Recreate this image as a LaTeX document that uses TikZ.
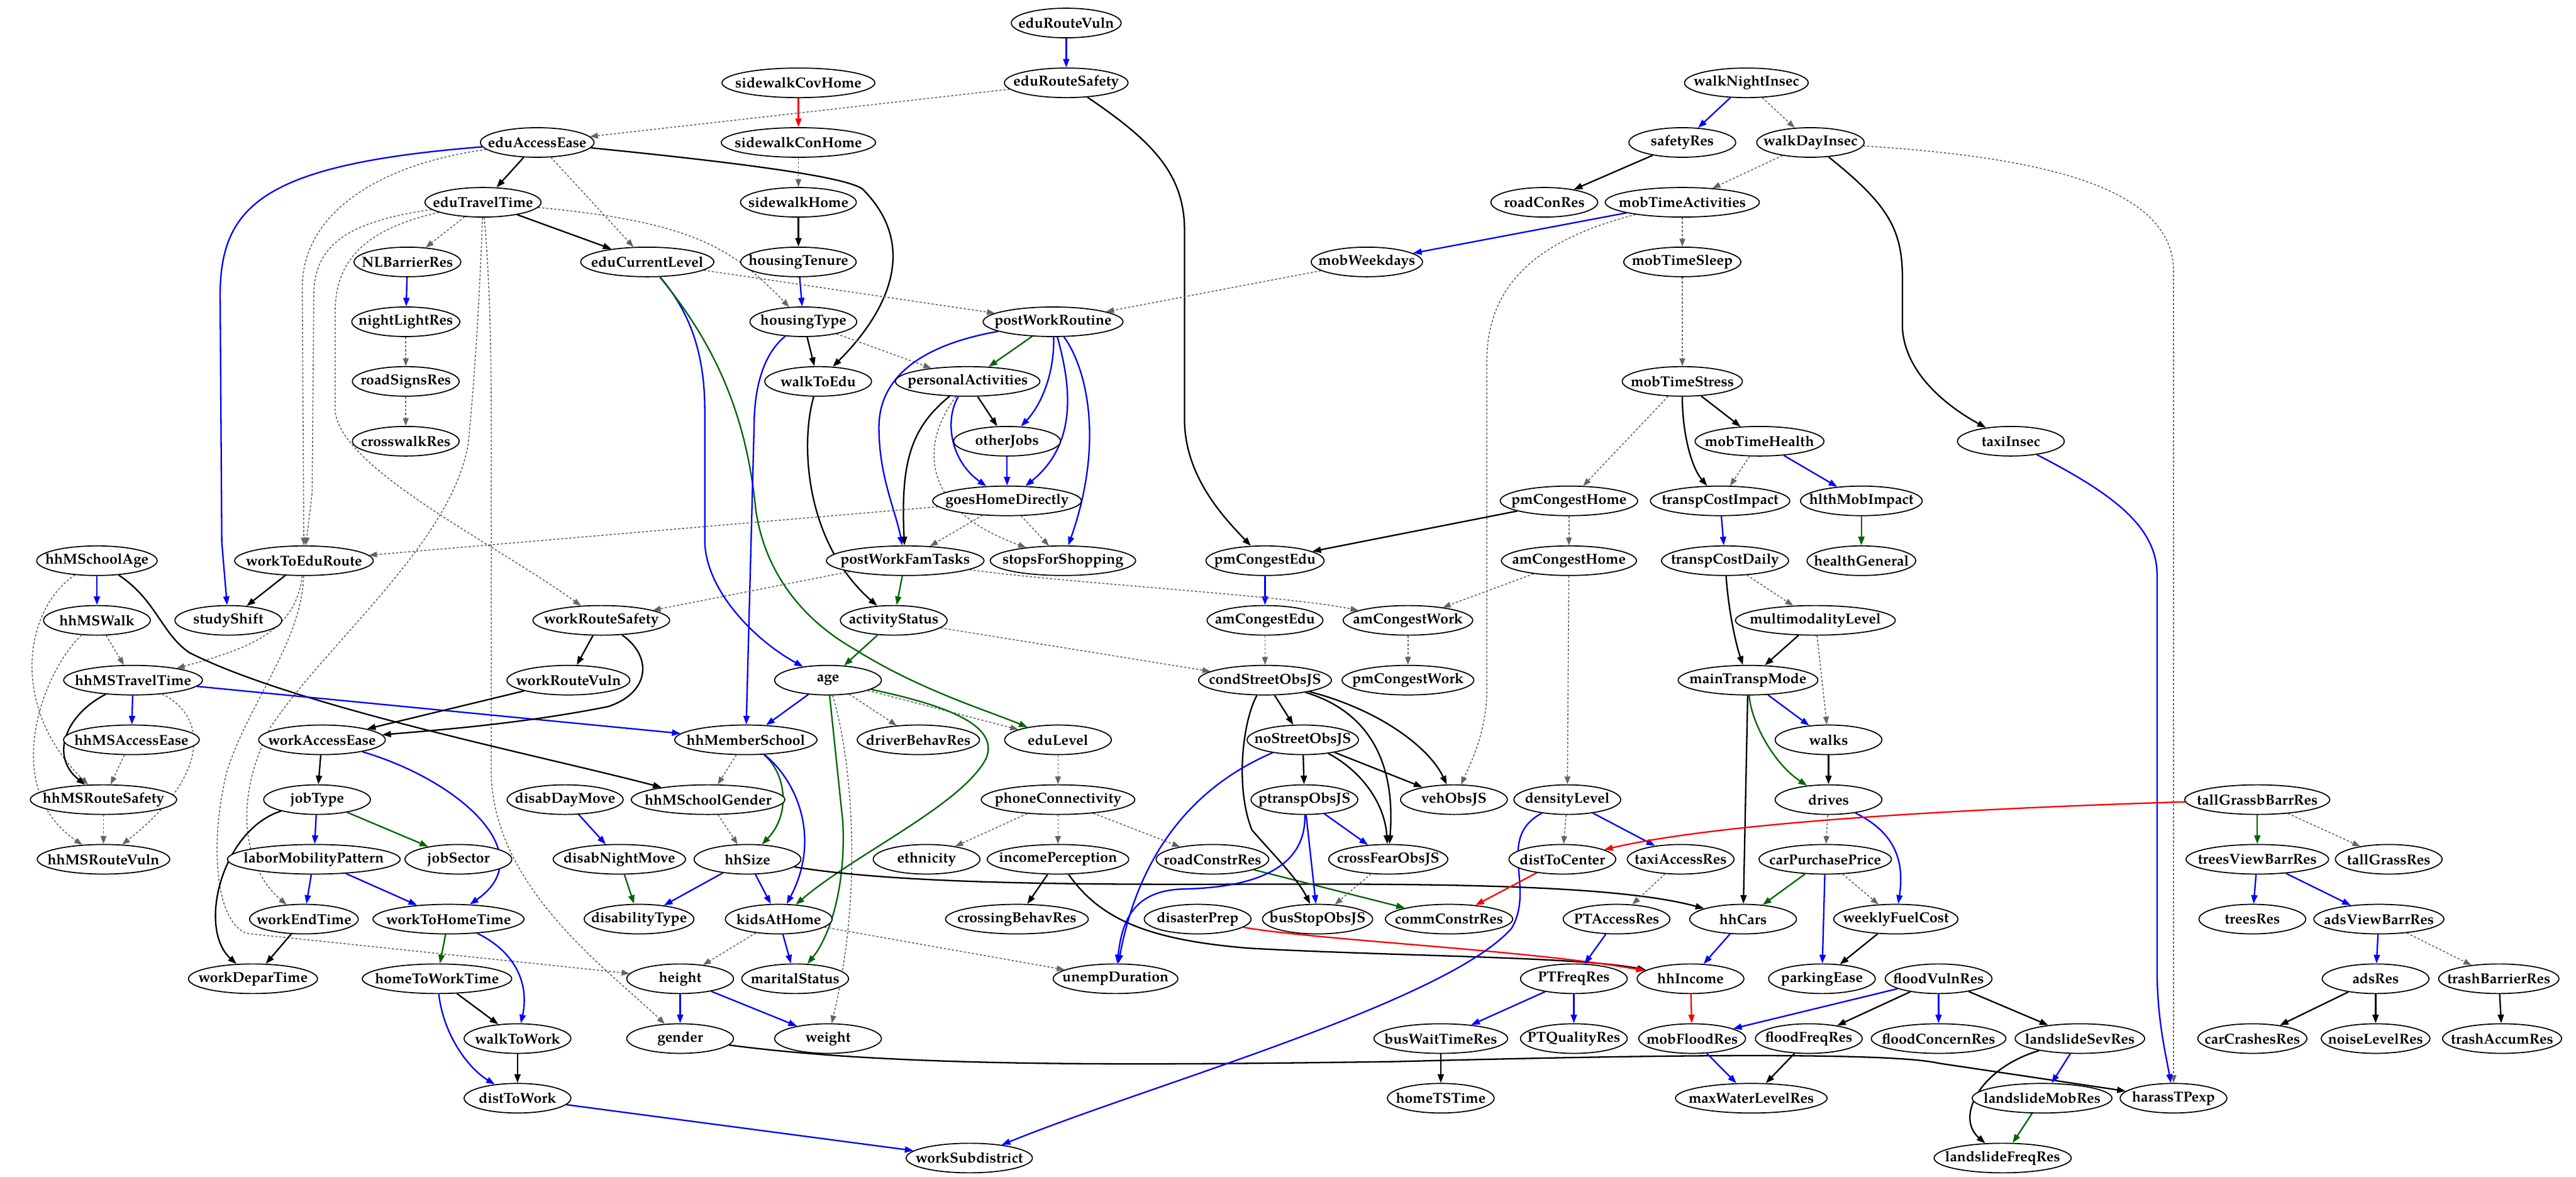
\documentclass[tikz,border=0pt]{standalone}
\usepackage{fontspec}
\setmainfont{TeX Gyre Pagella}
\usetikzlibrary{shapes.geometric,arrows.meta}
\definecolor{dkgreen}{RGB}{0,100,0}
\definecolor{dotgray}{RGB}{100,100,100}
\pgfdeclarelayer{bg}
\pgfsetlayers{bg,main}
\tikzset{
 nd/.style={ellipse, draw, fill=white, line width=0.75pt, inner xsep=-2.2mm, inner ysep=0pt,
   minimum width=26mm, minimum height=7.2mm, font=\fontsize{10}{12}\selectfont\bfseries},
 ed/.style={line width=1pt, -{Triangle[length=2.1mm,width=1.5mm]}},
 bk/.style={ed, black},
 bl/.style={ed, blue},
 gr/.style={ed, dkgreen},
 rd/.style={ed, red},
 dt/.style={line width=0.7pt, dotgray, dash pattern=on 1.5pt off 1.3pt, -{Triangle[length=1.9mm,width=1.4mm]}},
}
\begin{document}
\begin{tikzpicture}[x=0.4mm,y=-0.4mm]
\path[use as bounding box] (0,0) rectangle (1568,716);
% row 0-2
\node[nd] (eduRouteVuln) at (649,14) {eduRouteVuln};
\node[nd] (sidewalkCovHome) at (486,50.4) {sidewalkCovHome};
\node[nd] (eduRouteSafety) at (649,50.4) {eduRouteSafety};
\node[nd] (walkNightInsec) at (1063,50.4) {walkNightInsec};
\node[nd] (eduAccessEase) at (327,86.7) {eduAccessEase};
\node[nd] (sidewalkConHome) at (486,86.7) {sidewalkConHome};
\node[nd] (safetyRes) at (1024,86.7) {safetyRes};
\node[nd] (walkDayInsec) at (1102,86.7) {walkDayInsec};
% row 3
\node[nd] (eduTravelTime) at (294,123.1) {eduTravelTime};
\node[nd] (sidewalkHome) at (486,123.1) {sidewalkHome};
\node[nd] (roadConRes) at (940,123.1) {roadConRes};
\node[nd] (mobTimeActivities) at (1024,123.1) {mobTimeActivities};
% row 4
\node[nd] (NLBarrierRes) at (248,159.4) {NLBarrierRes};
\node[nd] (eduCurrentLevel) at (394,159.4) {eduCurrentLevel};
\node[nd] (housingTenure) at (486,159.4) {housingTenure};
\node[nd] (mobWeekdays) at (832,159.4) {mobWeekdays};
\node[nd] (mobTimeSleep) at (1024,159.4) {mobTimeSleep};
% row 5
\node[nd] (nightLightRes) at (247,195.8) {nightLightRes};
\node[nd] (housingType) at (489,195.8) {housingType};
\node[nd] (postWorkRoutine) at (641,195.8) {postWorkRoutine};
% row 6
\node[nd] (roadSignsRes) at (247,232.1) {roadSignsRes};
\node[nd] (walkToEdu) at (498,232.1) {walkToEdu};
\node[nd] (personalActivities) at (589,232.1) {personalActivities};
\node[nd] (mobTimeStress) at (1024,232.1) {mobTimeStress};
% row 7
\node[nd] (crosswalkRes) at (247,268.5) {crosswalkRes};
\node[nd] (otherJobs) at (613,268.5) {otherJobs};
\node[nd] (mobTimeHealth) at (1071,268.5) {mobTimeHealth};
\node[nd] (taxiInsec) at (1224,268.5) {taxiInsec};
% row 8
\node[nd] (goesHomeDirectly) at (613,304.8) {goesHomeDirectly};
\node[nd] (pmCongestHome) at (955,304.8) {pmCongestHome};
\node[nd] (transpCostImpact) at (1047,304.8) {transpCostImpact};
\node[nd] (hlthMobImpact) at (1133,304.8) {hlthMobImpact};
% row 9
\node[nd] (hhMSchoolAge) at (59,341.2) {hhMSchoolAge};
\node[nd] (workToEduRoute) at (185,341.2) {workToEduRoute};
\node[nd] (postWorkFamTasks) at (551,341.2) {postWorkFamTasks};
\node[nd] (stopsForShopping) at (647,341.2) {stopsForShopping};
\node[nd] (pmCongestEdu) at (770,341.2) {pmCongestEdu};
\node[nd] (amCongestHome) at (955,341.2) {amCongestHome};
\node[nd] (transpCostDaily) at (1050,341.2) {transpCostDaily};
\node[nd] (healthGeneral) at (1133,341.2) {healthGeneral};
% row 10
\node[nd] (hhMSWalk) at (59,377.5) {hhMSWalk};
\node[nd] (studyShift) at (139,377.5) {studyShift};
\node[nd] (workRouteSafety) at (366,377.5) {workRouteSafety};
\node[nd] (activityStatus) at (544,377.5) {activityStatus};
\node[nd] (amCongestEdu) at (770,377.5) {amCongestEdu};
\node[nd] (amCongestWork) at (857,377.5) {amCongestWork};
\node[nd] (multimodalityLevel) at (1105,377.5) {multimodalityLevel};
% row 11
\node[nd] (hhMSTravelTime) at (81,413.9) {hhMSTravelTime};
\node[nd] (workRouteVuln) at (346,413.9) {workRouteVuln};
\node[nd] (age) at (504,413.9) {age};
\node[nd] (condStreetObsJS) at (770,413.9) {condStreetObsJS};
\node[nd] (pmCongestWork) at (857,413.9) {pmCongestWork};
\node[nd] (mainTranspMode) at (1064,413.9) {mainTranspMode};
% row 12
\node[nd] (hhMSAccessEase) at (80,450.2) {hhMSAccessEase};
\node[nd] (workAccessEase) at (196,450.2) {workAccessEase};
\node[nd] (hhMemberSchool) at (454,450.2) {hhMemberSchool};
\node[nd] (driverBehavRes) at (559,450.2) {driverBehavRes};
\node[nd] (eduLevel) at (644,450.2) {eduLevel};
\node[nd] (noStreetObsJS) at (793,450.2) {noStreetObsJS};
\node[nd] (walks) at (1113,450.2) {walks};
% row 13
\node[nd] (hhMSRouteSafety) at (63,486.6) {hhMSRouteSafety};
\node[nd] (jobType) at (193,486.6) {jobType};
\node[nd] (disabDayMove) at (344,486.6) {disabDayMove};
\node[nd] (hhMSchoolGender) at (431,486.6) {hhMSchoolGender};
\node[nd] (phoneConnectivity) at (644,486.6) {phoneConnectivity};
\node[nd] (ptranspObsJS) at (794,486.6) {ptranspObsJS};
\node[nd] (vehObsJS) at (885,486.6) {vehObsJS};
\node[nd] (densityLevel) at (954,486.6) {densityLevel};
\node[nd] (drives) at (1113,486.6) {drives};
\node[nd] (tallGrassbBarrRes) at (1374,486.6) {tallGrassbBarrRes};
% row 14
\node[nd] (hhMSRouteVuln) at (63,522.9) {hhMSRouteVuln};
\node[nd] (laborMobilityPattern) at (191,522.9) {laborMobilityPattern};
\node[nd] (jobSector) at (279,522.9) {jobSector};
\node[nd] (disabNightMove) at (377,522.9) {disabNightMove};
\node[nd] (hhSize) at (455,522.9) {hhSize};
\node[nd] (ethnicity) at (564,522.9) {ethnicity};
\node[nd] (incomePerception) at (644,522.9) {incomePerception};
\node[nd] (roadConstrRes) at (738,522.9) {roadConstrRes};
\node[nd] (crossFearObsJS) at (845,522.9) {crossFearObsJS};
\node[nd] (distToCenter) at (951,522.9) {distToCenter};
\node[nd] (taxiAccessRes) at (1023,522.9) {taxiAccessRes};
\node[nd] (carPurchasePrice) at (1111,522.9) {carPurchasePrice};
\node[nd] (treesViewBarrRes) at (1374,522.9) {treesViewBarrRes};
\node[nd] (tallGrassRes) at (1454,522.9) {tallGrassRes};
% row 15
\node[nd] (workEndTime) at (185,559.3) {workEndTime};
\node[nd] (workToHomeTime) at (273,559.3) {workToHomeTime};
\node[nd] (disabilityType) at (389,559.3) {disabilityType};
\node[nd] (kidsAtHome) at (474,559.3) {kidsAtHome};
\node[nd] (crossingBehavRes) at (619,559.3) {crossingBehavRes};
\node[nd] (disasterPrep) at (729,559.3) {disasterPrep};
\node[nd] (busStopObsJS) at (802,559.3) {busStopObsJS};
\node[nd] (commConstrRes) at (882,559.3) {commConstrRes};
\node[nd] (PTAccessRes) at (984,559.3) {PTAccessRes};
\node[nd] (hhCars) at (1061,559.3) {hhCars};
\node[nd] (weeklyFuelCost) at (1154,559.3) {weeklyFuelCost};
\node[nd] (treesRes) at (1371,559.3) {treesRes};
\node[nd] (adsViewBarrRes) at (1448,559.3) {adsViewBarrRes};
% row 16
\node[nd] (workDeparTime) at (154,595.6) {workDeparTime};
\node[nd] (homeToWorkTime) at (266,595.6) {homeToWorkTime};
\node[nd] (height) at (414,595.6) {height};
\node[nd] (maritalStatus) at (484,595.6) {maritalStatus};
\node[nd] (unempDuration) at (679,595.6) {unempDuration};
\node[nd] (PTFreqRes) at (958,595.6) {PTFreqRes};
\node[nd] (hhIncome) at (1029,595.6) {hhIncome};
\node[nd] (parkingEase) at (1109,595.6) {parkingEase};
\node[nd] (floodVulnRes) at (1180,595.6) {floodVulnRes};
\node[nd] (adsRes) at (1446,595.6) {adsRes};
\node[nd] (trashBarrierRes) at (1521,595.6) {trashBarrierRes};
% row 17
\node[nd] (walkToWork) at (315,632) {walkToWork};
\node[nd] (gender) at (414,632) {gender};
\node[nd] (weight) at (504,632) {weight};
\node[nd] (busWaitTimeRes) at (877,632) {busWaitTimeRes};
\node[nd] (PTQualityRes) at (958,632) {PTQualityRes};
\node[nd] (mobFloodRes) at (1030,632) {mobFloodRes};
\node[nd] (floodFreqRes) at (1101,632) {floodFreqRes};
\node[nd] (floodConcernRes) at (1180,632) {floodConcernRes};
\node[nd] (landslideSevRes) at (1266,632) {landslideSevRes};
\node[nd] (carCrashesRes) at (1371,632) {carCrashesRes};
\node[nd] (noiseLevelRes) at (1446,632) {noiseLevelRes};
\node[nd] (trashAccumRes) at (1523,632) {trashAccumRes};
% row 18-19
\node[nd] (distToWork) at (315,668.3) {distToWork};
\node[nd] (homeTSTime) at (877,668.3) {homeTSTime};
\node[nd] (maxWaterLevelRes) at (1066,668.3) {maxWaterLevelRes};
\node[nd] (landslideMobRes) at (1243,668.3) {landslideMobRes};
\node[nd] (harassTPexp) at (1323,668.3) {harassTPexp};
\node[nd] (workSubdistrict) at (590,704.7) {workSubdistrict};
\node[nd] (landslideFreqRes) at (1219,704.7) {landslideFreqRes};

\begin{pgfonlayer}{bg}
\fill[white] (0,0) rectangle (1568,716);
% top
\draw[bl] (eduRouteVuln) -- (eduRouteSafety);
\draw[rd] (sidewalkCovHome) -- (sidewalkConHome);
\draw[dt] (eduRouteSafety) -- (eduAccessEase);
\draw[bk] (eduRouteSafety) .. controls (700,85) and (721,105) .. (721,140) -- (721,255) .. controls (721,290) and (745,315) .. (pmCongestEdu);
\draw[dt] (sidewalkConHome) -- (sidewalkHome);
\draw[bk] (sidewalkHome) -- (housingTenure);
\draw[bl] (housingTenure) -- (housingType);
\draw[bl] (walkNightInsec) -- (safetyRes);
\draw[dt] (walkNightInsec) -- (walkDayInsec);
\draw[bk] (safetyRes) -- (roadConRes);
\draw[dt] (walkDayInsec) -- (mobTimeActivities);
\draw[bk] (walkDayInsec) .. controls (1150,125) and (1158,140) .. (1158,170) -- (1158,200) .. controls (1160,230) and (1190,250) .. (taxiInsec);
\draw[dt] (walkDayInsec) .. controls (1230,95) and (1323,110) .. (1323,165) -- (harassTPexp);
\draw[bl] (taxiInsec) .. controls (1285,300) and (1313,320) .. (1313,350) -- (1313,590) .. controls (1313,620) and (1318,640) .. (harassTPexp);
\draw[bl] (mobTimeActivities) -- (mobWeekdays);
\draw[dt] (mobTimeActivities) -- (mobTimeSleep);
\draw[dt] (mobTimeActivities) .. controls (940,145) and (905,170) .. (905,220) -- (905,420) .. controls (905,445) and (895,465) .. (vehObsJS);
\draw[dt] (mobWeekdays) -- (postWorkRoutine);
\draw[dt] (mobTimeSleep) -- (mobTimeStress);
\draw[dt] (mobTimeStress) -- (pmCongestHome);
\draw[bk] (mobTimeStress) .. controls (1024,265) and (1030,285) .. (transpCostImpact);
\draw[bk] (mobTimeStress) -- (mobTimeHealth);
\draw[dt] (mobTimeHealth) -- (transpCostImpact);
\draw[bl] (mobTimeHealth) -- (hlthMobImpact);
\draw[gr] (hlthMobImpact) -- (healthGeneral);
\draw[bl] (transpCostImpact) -- (transpCostDaily);
\draw[bk] (transpCostDaily) .. controls (1052,370) and (1056,390) .. (mainTranspMode);
\draw[dt] (transpCostDaily) -- (multimodalityLevel);
\draw[bk] (multimodalityLevel) -- (mainTranspMode);
\draw[dt] (multimodalityLevel) -- (walks);
\draw[bl] (mainTranspMode) -- (walks);
\draw[gr] (mainTranspMode) .. controls (1066,440) and (1080,465) .. (drives);
\draw[bk] (mainTranspMode) -- (hhCars);
\draw[bk] (walks) -- (drives);
\draw[dt] (drives) -- (carPurchasePrice);
\draw[bl] (drives) .. controls (1150,505) and (1160,520) .. (weeklyFuelCost);
\draw[gr] (carPurchasePrice) -- (hhCars);
\draw[bl] (carPurchasePrice) -- (parkingEase);
\draw[dt] (carPurchasePrice) -- (weeklyFuelCost);
\draw[bk] (weeklyFuelCost) -- (parkingEase);
\draw[bl] (hhCars) -- (hhIncome);
\draw[bk] (pmCongestHome) -- (pmCongestEdu);
\draw[dt] (pmCongestHome) -- (amCongestHome);
\draw[dt] (amCongestHome) -- (amCongestWork);
\draw[dt] (amCongestHome) -- (densityLevel);
\draw[dt] (amCongestWork) -- (pmCongestWork);
\draw[bl] (pmCongestEdu) -- (amCongestEdu);
\draw[dt] (amCongestEdu) -- (condStreetObsJS);
% education
\draw[bk] (eduAccessEase) -- (eduTravelTime);
\draw[dt] (eduAccessEase) -- (eduCurrentLevel);
\draw[bl] (eduAccessEase) .. controls (160,100) and (134,125) .. (134,180) -- (135,330) -- (studyShift);
\draw[dt] (eduAccessEase) .. controls (230,100) and (184,130) .. (184,175) -- (workToEduRoute);
\draw[bk] (eduAccessEase) .. controls (460,100) and (515,108) .. (525,115) .. controls (560,150) and (540,190) .. (walkToEdu);
\draw[bk] (eduTravelTime) -- (eduCurrentLevel);
\draw[dt] (eduTravelTime) -- (NLBarrierRes);
\draw[dt] (eduTravelTime) .. controls (210,135) and (191,150) .. (191,180) -- (190,300) -- (workToEduRoute);
\draw[dt] (eduTravelTime) .. controls (220,140) and (204,160) .. (204,190) -- (204,250) .. controls (207,285) and (300,330) .. (workRouteSafety);
\draw[dt] (eduTravelTime) .. controls (420,135) and (445,150) .. (housingType);
\draw[dt] (eduTravelTime) .. controls (292,180) and (289,230) .. (285,270) .. controls (275,330) and (200,390) .. (165,442) .. controls (140,490) and (150,530) .. (workEndTime);
\draw[dt] (eduTravelTime) .. controls (298,170) and (299,210) .. (299,250) -- (299,470) .. controls (300,540) and (370,590) .. (gender);
\draw[dt] (workToEduRoute) .. controls (184,390) and (150,430) .. (138,470) .. controls (128,510) and (130,560) .. (150,568) -- (height);
\draw[dt] (workToEduRoute) .. controls (180,385) and (150,395) .. (hhMSTravelTime);
\draw[bk] (workToEduRoute) -- (studyShift);
\draw[dt] (eduCurrentLevel) -- (postWorkRoutine);
\draw[bl] (eduCurrentLevel) .. controls (420,190) and (429,215) .. (429,250) -- (429,330) .. controls (430,360) and (460,390) .. (age);
\draw[gr] (eduCurrentLevel) .. controls (440,215) and (455,260) .. (460,310) .. controls (465,345) and (485,375) .. (520,395) .. controls (560,420) and (600,432) .. (eduLevel);
\draw[bl] (housingType) .. controls (465,215) and (459,235) .. (459,260) -- (hhMemberSchool);
\draw[bk] (housingType) -- (walkToEdu);
\draw[dt] (housingType) -- (personalActivities);
\draw[bk] (walkToEdu) .. controls (487,270) and (490,330) .. (activityStatus);
\draw[gr] (postWorkRoutine) -- (personalActivities);
\draw[bl] (postWorkRoutine) .. controls (560,210) and (535,230) .. (535,260) .. controls (535,290) and (545,310) .. (postWorkFamTasks);
\draw[bl] (postWorkRoutine) .. controls (642,225) and (635,245) .. (otherJobs);
\draw[bl] (postWorkRoutine) .. controls (652,235) and (656,270) .. (goesHomeDirectly);
\draw[bl] (postWorkRoutine) .. controls (662,225) and (672,270) .. (stopsForShopping);
\draw[bk] (personalActivities) .. controls (555,260) and (548,280) .. (postWorkFamTasks);
\draw[bk] (personalActivities) -- (otherJobs);
\draw[bl] (personalActivities) .. controls (575,255) and (578,280) .. (goesHomeDirectly);
\draw[dt] (personalActivities) .. controls (560,270) and (560,310) .. (stopsForShopping);
\draw[bl] (otherJobs) -- (goesHomeDirectly);
\draw[dt] (goesHomeDirectly) -- (postWorkFamTasks);
\draw[dt] (goesHomeDirectly) -- (stopsForShopping);
\draw[dt] (goesHomeDirectly) -- (workToEduRoute);
\draw[dt] (postWorkFamTasks) -- (workRouteSafety);
\draw[dt] (postWorkFamTasks) .. controls (650,355) and (780,362) .. (amCongestWork);
\draw[gr] (postWorkFamTasks) -- (activityStatus);
\draw[gr] (activityStatus) -- (age);
\draw[dt] (activityStatus) -- (condStreetObsJS);
% left cluster
\draw[bl] (hhMSchoolAge) -- (hhMSWalk);
\draw[bk] (hhMSchoolAge) .. controls (95,365) and (98,385) .. (115,397) .. controls (180,430) and (330,460) .. (hhMSchoolGender);
\draw[dt] (hhMSchoolAge) .. controls (15,370) and (5,430) .. (hhMSRouteSafety);
\draw[dt] (hhMSWalk) -- (hhMSTravelTime);
\draw[dt] (hhMSWalk) .. controls (25,410) and (0,480) .. (hhMSRouteVuln);
\draw[bl] (hhMSTravelTime) -- (hhMSAccessEase);
\draw[bk] (hhMSTravelTime) .. controls (40,435) and (30,460) .. (hhMSRouteSafety);
\draw[dt] (hhMSTravelTime) .. controls (125,435) and (130,470) .. (hhMSRouteVuln);
\draw[bl] (hhMSTravelTime) -- (hhMemberSchool);
\draw[dt] (hhMSAccessEase) -- (hhMSRouteSafety);
\draw[dt] (hhMSRouteSafety) -- (hhMSRouteVuln);
% work
\draw[bk] (workRouteSafety) -- (workRouteVuln);
\draw[bk] (workRouteSafety) .. controls (398,400) and (395,422) .. (370,430) .. controls (320,440) and (270,444) .. (workAccessEase);
\draw[bk] (workRouteVuln) -- (workAccessEase);
\draw[bk] (workAccessEase) -- (jobType);
\draw[bl] (workAccessEase) .. controls (280,475) and (330,520) .. (workToHomeTime);
\draw[bl] (jobType) -- (laborMobilityPattern);
\draw[gr] (jobType) -- (jobSector);
\draw[bk] (jobType) .. controls (135,505) and (120,565) .. (workDeparTime);
\draw[bl] (laborMobilityPattern) -- (workEndTime);
\draw[bl] (laborMobilityPattern) -- (workToHomeTime);
\draw[bk] (workEndTime) -- (workDeparTime);
\draw[gr] (workToHomeTime) -- (homeToWorkTime);
\draw[bl] (workToHomeTime) .. controls (315,580) and (322,600) .. (walkToWork);
\draw[bk] (homeToWorkTime) -- (walkToWork);
\draw[bl] (homeToWorkTime) .. controls (270,630) and (285,650) .. (distToWork);
\draw[bk] (walkToWork) -- (distToWork);
\draw[bl] (distToWork) -- (workSubdistrict);
\draw[bl] (disabDayMove) -- (disabNightMove);
\draw[gr] (disabNightMove) -- (disabilityType);
% household
\draw[bl] (age) -- (hhMemberSchool);
\draw[dt] (age) -- (driverBehavRes);
\draw[dt] (age) -- (eduLevel);
\draw[gr] (age) .. controls (570,428) and (610,440) .. (600,462) .. controls (585,490) and (520,520) .. (kidsAtHome);
\draw[gr] (age) -- (513,500) .. controls (515,540) and (505,570) .. (maritalStatus);
\draw[dt] (age) .. controls (518,460) and (526,540) .. (weight);
\draw[dt] (hhMemberSchool) -- (hhMSchoolGender);
\draw[dt] (hhMSchoolGender) -- (hhSize);
\draw[gr] (hhMemberSchool) .. controls (478,470) and (482,495) .. (hhSize);
\draw[bl] (hhMemberSchool) .. controls (485,475) and (500,510) .. (kidsAtHome);
\draw[bk] (hhSize) .. controls (560,540) and (700,538) .. (800,538) .. controls (900,538) and (990,540) .. (hhCars);
\draw[bl] (hhSize) -- (disabilityType);
\draw[bl] (hhSize) -- (kidsAtHome);
\draw[dt] (kidsAtHome) -- (height);
\draw[bl] (kidsAtHome) -- (maritalStatus);
\draw[dt] (kidsAtHome) -- (unempDuration);
\draw[bl] (height) -- (gender);
\draw[bl] (height) -- (weight);
\draw[bk] (gender) .. controls (550,650) and (700,648) .. (850,646) .. controls (1000,642) and (1150,640) .. (1180,647) -- (harassTPexp);
\draw[dt] (eduLevel) -- (phoneConnectivity);
\draw[dt] (phoneConnectivity) -- (ethnicity);
\draw[dt] (phoneConnectivity) -- (incomePerception);
\draw[dt] (phoneConnectivity) -- (roadConstrRes);
\draw[bk] (incomePerception) -- (crossingBehavRes);
\draw[bk] (incomePerception) .. controls (670,560) and (700,572) .. (760,577) .. controls (850,582) and (960,582) .. (hhIncome);
\draw[rd] (disasterPrep) .. controls (800,572) and (930,578) .. (hhIncome);
\draw[gr] (roadConstrRes) -- (commConstrRes);
% street obs
\draw[bk] (condStreetObsJS) -- (noStreetObsJS);
\draw[bk] (condStreetObsJS) .. controls (756,440) and (752,480) .. (762,505) .. controls (775,520) and (790,535) .. (busStopObsJS);
\draw[bk] (condStreetObsJS) .. controls (830,432) and (850,460) .. (crossFearObsJS);
\draw[bk] (condStreetObsJS) .. controls (840,432) and (870,455) .. (vehObsJS);
\draw[bk] (noStreetObsJS) -- (vehObsJS);
\draw[bk] (noStreetObsJS) .. controls (830,470) and (843,490) .. (crossFearObsJS);
\draw[bk] (noStreetObsJS) -- (ptranspObsJS);
\draw[bl] (noStreetObsJS) .. controls (735,475) and (695,510) .. (unempDuration);
\draw[bl] (ptranspObsJS) .. controls (795,525) and (770,540) .. (720,541) .. controls (690,542) and (683,560) .. (unempDuration);
\draw[bl] (ptranspObsJS) -- (busStopObsJS);
\draw[bl] (ptranspObsJS) -- (crossFearObsJS);
\draw[dt] (crossFearObsJS) -- (busStopObsJS);
% right
\draw[dt] (densityLevel) -- (distToCenter);
\draw[bl] (densityLevel) -- (taxiAccessRes);
\draw[bl] (densityLevel) .. controls (910,510) and (935,540) .. (920,565) .. controls (880,610) and (700,660) .. (workSubdistrict);
\draw[rd] (tallGrassbBarrRes) .. controls (1200,492) and (1050,500) .. (distToCenter);
\draw[rd] (distToCenter) -- (commConstrRes);
\draw[dt] (taxiAccessRes) -- (PTAccessRes);
\draw[bl] (PTAccessRes) -- (PTFreqRes);
\draw[bl] (PTFreqRes) -- (busWaitTimeRes);
\draw[bl] (PTFreqRes) -- (PTQualityRes);
\draw[bk] (busWaitTimeRes) -- (homeTSTime);
\draw[rd] (hhIncome) -- (mobFloodRes);
\draw[bl] (floodVulnRes) -- (mobFloodRes);
\draw[bk] (floodVulnRes) -- (floodFreqRes);
\draw[bl] (floodVulnRes) -- (floodConcernRes);
\draw[bk] (floodVulnRes) -- (landslideSevRes);
\draw[bl] (mobFloodRes) -- (maxWaterLevelRes);
\draw[bk] (floodFreqRes) -- (maxWaterLevelRes);
\draw[bl] (landslideSevRes) -- (landslideMobRes);
\draw[bk] (landslideSevRes) .. controls (1205,650) and (1190,680) .. (landslideFreqRes);
\draw[gr] (landslideMobRes) -- (landslideFreqRes);
\draw[gr] (tallGrassbBarrRes) -- (treesViewBarrRes);
\draw[dt] (tallGrassbBarrRes) -- (tallGrassRes);
\draw[bl] (treesViewBarrRes) -- (treesRes);
\draw[bl] (treesViewBarrRes) -- (adsViewBarrRes);
\draw[bl] (adsViewBarrRes) -- (adsRes);
\draw[dt] (adsViewBarrRes) -- (trashBarrierRes);
\draw[bk] (adsRes) -- (carCrashesRes);
\draw[bk] (adsRes) -- (noiseLevelRes);
\draw[bk] (trashBarrierRes) -- (trashAccumRes);
\draw[bl] (NLBarrierRes) -- (nightLightRes);
\draw[dt] (nightLightRes) -- (roadSignsRes);
\draw[dt] (roadSignsRes) -- (crosswalkRes);
\end{pgfonlayer}
\end{tikzpicture}
\end{document}
